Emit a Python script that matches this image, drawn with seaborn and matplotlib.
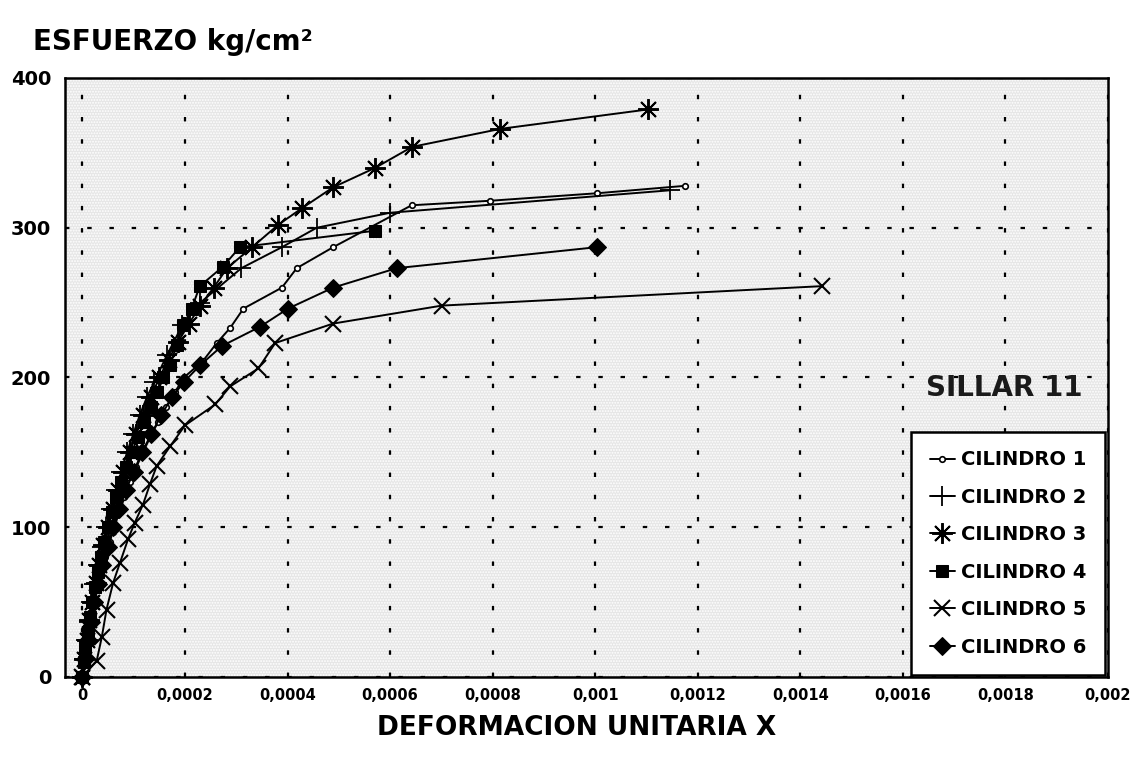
import numpy as np
import pandas as pd
import matplotlib
matplotlib.use("Agg")
import matplotlib.pyplot as plt
import seaborn as sns
from matplotlib.patches import Rectangle


# deformacion unitaria / esfuerzo (kg/cm2) por cilindro
cil1_def = [0, 0.000004, 0.000008, 0.000013, 0.000018, 0.000024, 0.00003, 0.000037, 0.000045,
            0.000053, 0.000062, 0.000072, 0.000082, 0.000093, 0.000105, 0.000118, 0.000132,
            0.000147, 0.000163, 0.00018, 0.000198, 0.000235, 0.000262, 0.000288, 0.000314,
            0.000389, 0.000418, 0.000489, 0.000642, 0.000795, 0.001003, 0.001176]
cil1_esf = [0, 10, 20, 30, 40, 50, 60, 70, 80, 90, 100, 110, 120, 130, 140, 150, 160, 170, 180,
            190, 200, 211, 223, 233, 246, 260, 273, 287, 315, 318, 323, 328]

cil2_def = [0, 0.000003, 0.000007, 0.000012, 0.000017, 0.000023, 0.00003, 0.000038, 0.000046,
            0.000055, 0.000065, 0.000076, 0.000087, 0.000099, 0.000112, 0.000126, 0.00014,
            0.000165, 0.000195, 0.00023, 0.00031, 0.000389, 0.000457, 0.0006, 0.001146]
cil2_esf = [0, 12, 25, 37, 50, 62, 75, 87, 100, 112, 125, 137, 150, 162, 175, 187, 197, 215, 235,
            250, 273, 287, 300, 310, 325]

cil3_def = [0, 0.000004, 0.000008, 0.000013, 0.000019, 0.000026, 0.000033, 0.000041, 0.00005,
            0.000059, 0.000069, 0.00008, 0.000092, 0.000105, 0.000119, 0.000134, 0.00015,
            0.000168, 0.000187, 0.000208, 0.00023, 0.000256, 0.000282, 0.000331, 0.000382,
            0.000428, 0.000489, 0.000571, 0.000643, 0.000815, 0.001103]
cil3_esf = [0, 12, 25, 38, 50, 63, 75, 88, 100, 112, 125, 137, 150, 162, 175, 187, 200, 212, 224,
            236, 248, 260, 273, 287, 302, 313, 327, 340, 354, 366, 379]

cil4_def = [0, 0.000003, 0.000006, 0.00001, 0.000014, 0.000019, 0.000024, 0.00003, 0.000036,
            0.000043, 0.00005, 0.000058, 0.000066, 0.000075, 0.000085, 0.000096, 0.000108,
            0.00012, 0.000133, 0.000146, 0.000158, 0.000171, 0.000184, 0.000197, 0.000213,
            0.000229, 0.000274, 0.000307, 0.000571]
cil4_esf = [0, 10, 20, 30, 40, 50, 60, 70, 80, 90, 100, 110, 120, 130, 140, 150, 160, 170, 180,
            190, 200, 208, 222, 235, 246, 261, 274, 287, 298]

cil5_def = [0, 0.000028, 0.000038, 0.000047, 0.00006, 0.000073, 0.000089, 0.000102, 0.000118,
            0.000132, 0.000145, 0.000171, 0.0002, 0.000259, 0.000288, 0.000343, 0.000376,
            0.000489, 0.000701, 0.001443]
cil5_esf = [0, 11, 27, 45, 63, 76, 92, 103, 115, 129, 141, 154, 168, 182, 194, 206, 223, 236,
            248, 261]

cil6_def = [0, 0.000005, 0.00001, 0.000016, 0.000023, 0.00003, 0.000039, 0.000049, 0.00006,
            0.000072, 0.000085, 0.0001, 0.000116, 0.000134, 0.000154, 0.000175, 0.000198,
            0.000229, 0.000272, 0.000347, 0.000401, 0.000489, 0.000613, 0.001003]
cil6_esf = [0, 12, 25, 37, 50, 62, 75, 87, 100, 112, 125, 137, 150, 162, 175, 187, 197, 208, 221,
            234, 246, 260, 273, 287]

x_ticks = [0, 0.0002, 0.0004, 0.0006, 0.0008, 0.001, 0.0012, 0.0014, 0.0016, 0.0018, 0.002]
x_tick_labels = ["0", "0,0002", "0,0004", "0,0006", "0,0008", "0,001", "0,0012", "0,0014",
                 "0,0016", "0,0018", "0,002"]
y_ticks = [0, 100, 200, 300, 400]

series = [
    ("CILINDRO 1", cil1_def, cil1_esf, dict(marker="o", markersize=4, mfc="white", mew=1.2)),
    ("CILINDRO 2", cil2_def, cil2_esf, dict(marker="+", markersize=15, mew=1.3)),
    ("CILINDRO 3", cil3_def, cil3_esf, dict(marker=(8, 2, 0), markersize=15, mew=1.4)),
    ("CILINDRO 4", cil4_def, cil4_esf, dict(marker="s", markersize=9)),
    ("CILINDRO 5", cil5_def, cil5_esf, dict(marker="x", markersize=12, mew=1.5)),
    ("CILINDRO 6", cil6_def, cil6_esf, dict(marker="D", markersize=9)),
]

sns.set_style("white")
plt.rcParams["font.family"] = ["DejaVu Sans"]
plt.rcParams["text.color"] = "black"
plt.rcParams["xtick.color"] = "black"
plt.rcParams["ytick.color"] = "black"
plt.rcParams["hatch.color"] = "#7a7a7a"
plt.rcParams["hatch.linewidth"] = 0.9

fig = plt.figure(figsize=(11.36, 7.57), dpi=100)
ax = fig.add_axes([0.0572, 0.1057, 0.9181, 0.7913])

# stippled gray background
ax.set_facecolor("#e6e6e6")
ax.add_patch(Rectangle((0, 0), 1, 1, transform=ax.transAxes, facecolor="none",
                       hatch="......", lw=0, zorder=0))

for name, xs, ys, style in series:
    df = pd.DataFrame({"def": xs, "esf": ys})
    sns.lineplot(data=df, x="def", y="esf", sort=False, estimator=None, color="black",
                 lw=1.4, ax=ax, label=name, clip_on=False, mec="black", **style)

ax.set_xlim(-0.000034, 0.002)
ax.set_ylim(0, 400)
ax.set_xticks(x_ticks)
ax.set_xticklabels(x_tick_labels)
ax.set_yticks(y_ticks)
ax.tick_params(axis="x", length=0, pad=8, labelsize=10.5)
ax.tick_params(axis="y", length=0, pad=10, labelsize=14)
for lab in ax.get_xticklabels() + ax.get_yticklabels():
    lab.set_fontweight("bold")

# dotted grid
ax.grid(True, color="black", linestyle=(0, (2, 8)), linewidth=1.6)
for spine in ax.spines.values():
    spine.set_color("black")
    spine.set_linewidth(1.8)

ax.set_xlabel("")
ax.set_ylabel("")
fig.text(0.029, 0.945, "ESFUERZO kg/cm²", fontsize=20, fontweight="bold", va="center")
fig.text(0.508, 0.038, "DEFORMACION UNITARIA X", fontsize=19, fontweight="bold",
         ha="center", va="center")

ax.text(0.901, 0.483, "SILLAR 11", transform=ax.transAxes, fontsize=20, fontweight="bold",
        ha="center", va="center", color="#1a1a1a")

leg = ax.legend(loc="lower right", bbox_to_anchor=(0.997, 0.003), borderaxespad=0,
                frameon=True, fancybox=False, framealpha=1, edgecolor="black",
                facecolor="white", handlelength=1.3, handletextpad=0.3, labelspacing=0.95,
                borderpad=0.95, prop=dict(weight="bold", size=14))
leg.get_frame().set_linewidth(1.8)

fig.savefig("out.png", dpi=100, facecolor="white")
